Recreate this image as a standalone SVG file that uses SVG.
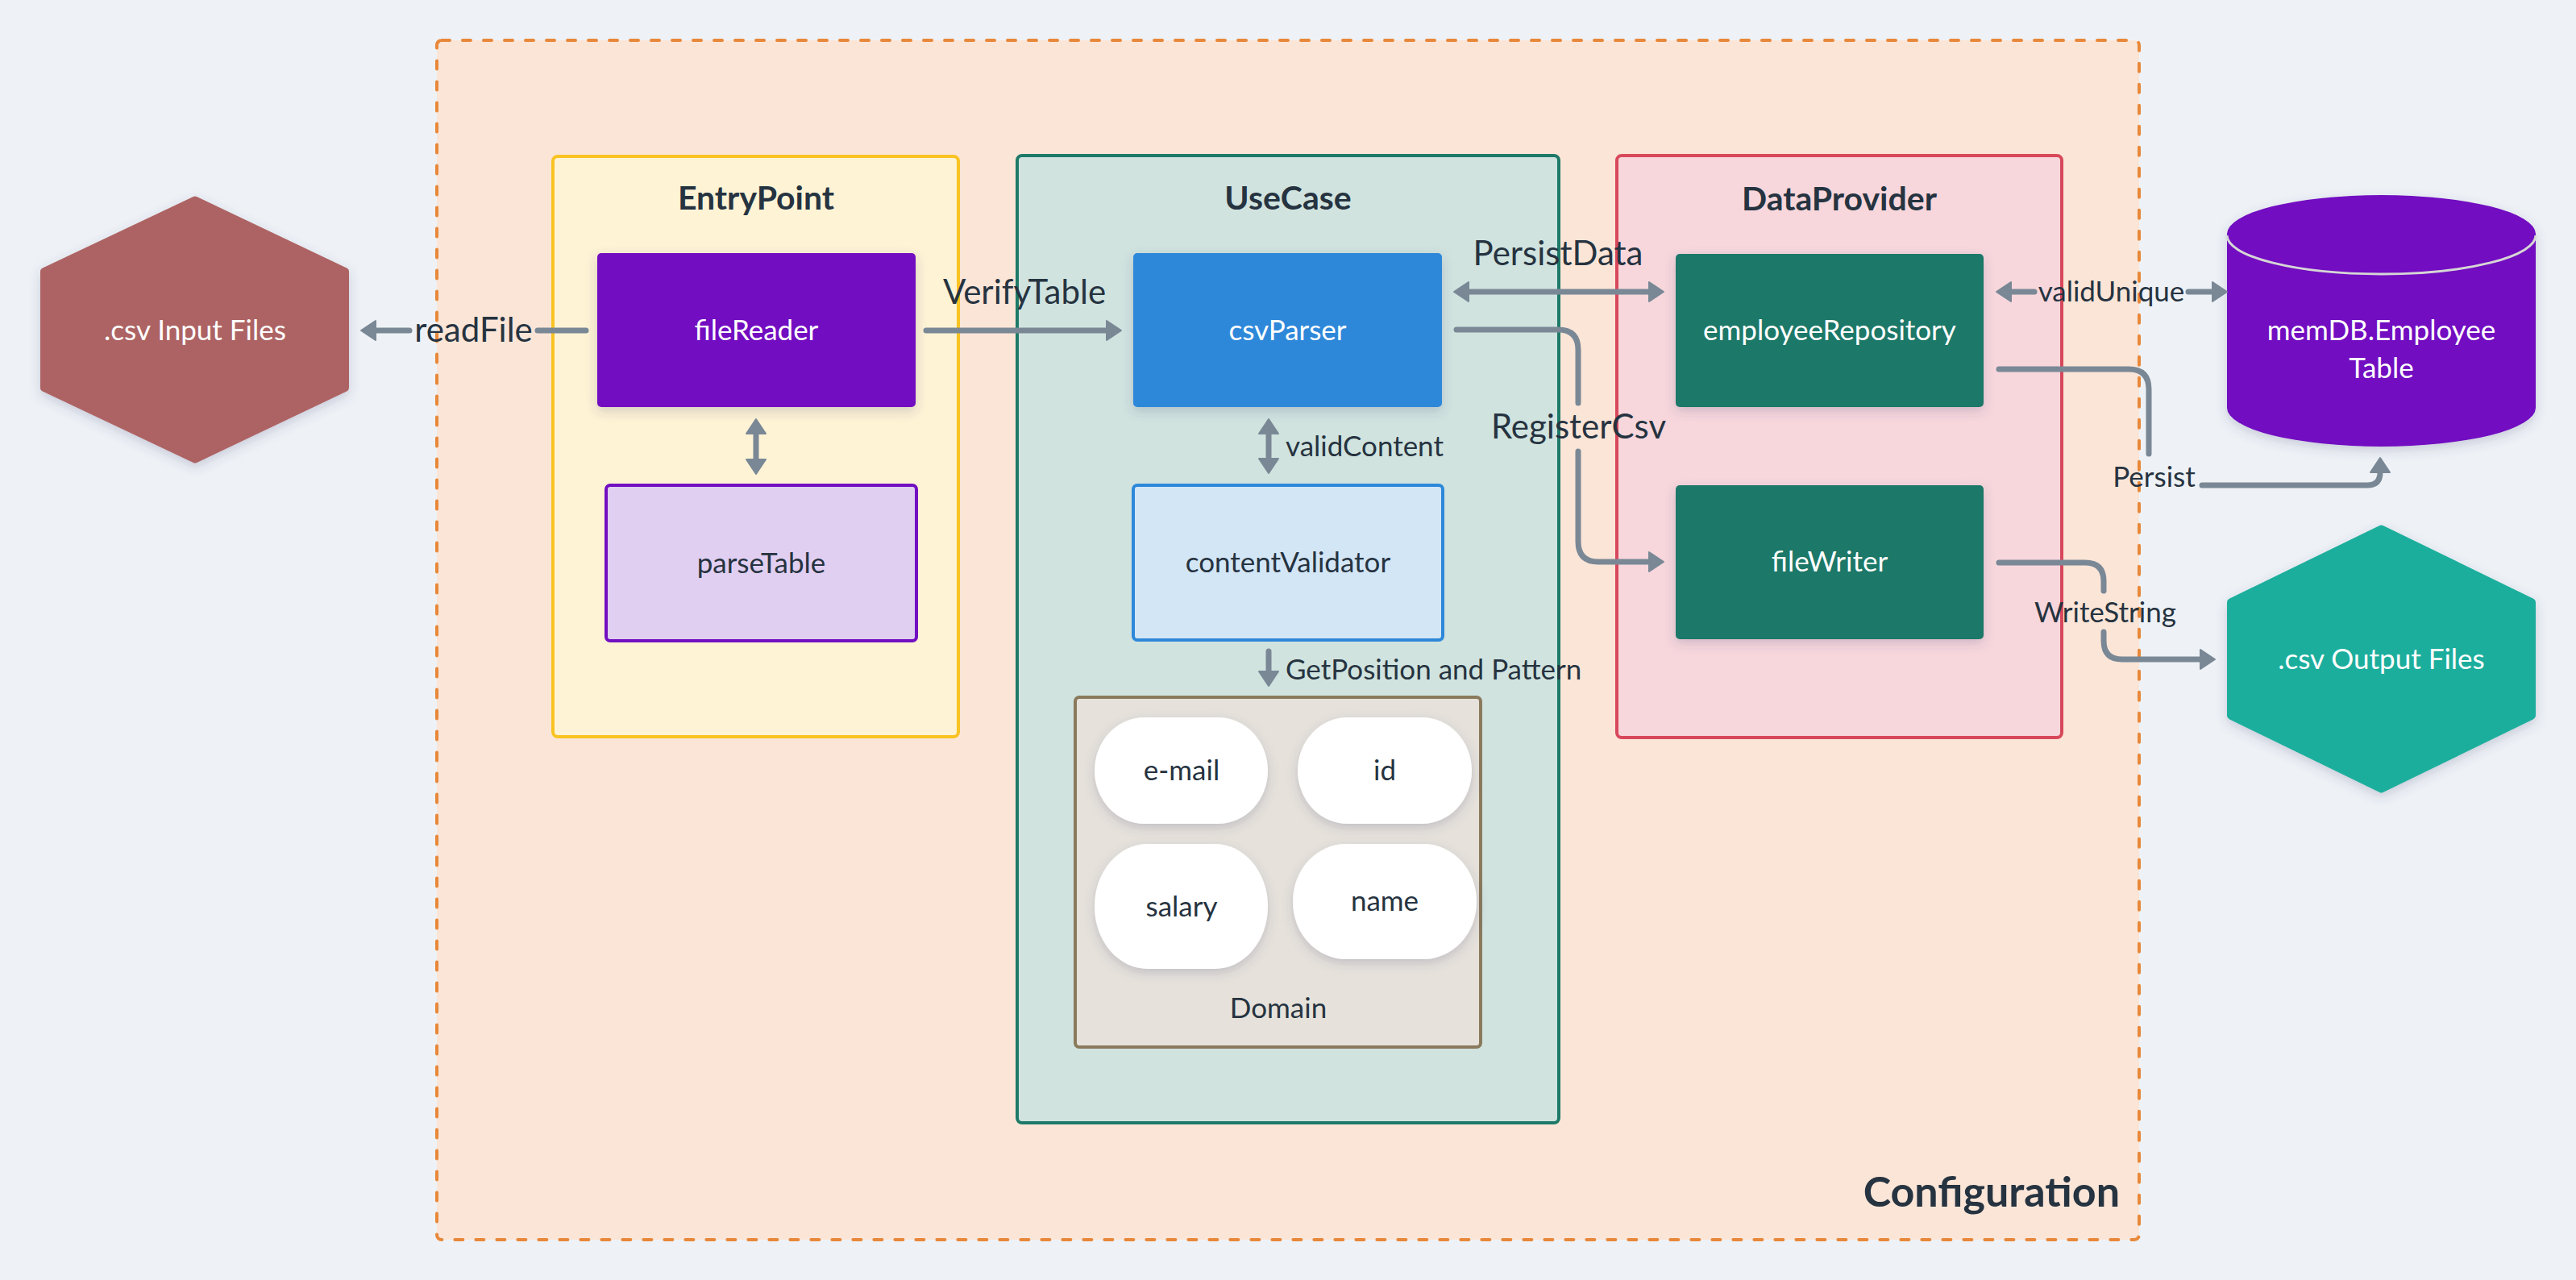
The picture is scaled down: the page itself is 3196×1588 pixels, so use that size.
<svg xmlns="http://www.w3.org/2000/svg" width="3196" height="1588" viewBox="0 0 3196 1588">
<defs>
<style>
.t{font-family:Lato,"Noto Sans","DejaVu Sans",sans-serif;fill:#263340;}
.w{fill:#ffffff;}
.n{font-size:35px;text-anchor:middle;}
.big{font-size:42px;}
.sm{font-size:35px;}
.title{font-size:41px;font-weight:bold;text-anchor:middle;}
.c{text-anchor:middle;}
.cont{stroke-width:4;}
.conn{fill:none;stroke:#7A8896;stroke-width:7;stroke-linecap:round;stroke-linejoin:round;}
.sh{filter:url(#shadow);}
</style>
<filter id="shadow" x="-30%" y="-30%" width="160%" height="170%">
<feDropShadow dx="0" dy="5" stdDeviation="7" flood-color="#3d4574" flood-opacity="0.22"/>
</filter>
<marker id="ah" markerUnits="userSpaceOnUse" viewBox="-3 -16 26 32" refX="0" refY="0" markerWidth="26" markerHeight="32" orient="auto-start-reverse">
<path d="M0,-12 L18,0 L0,12 Z" fill="#7A8896" stroke="#7A8896" stroke-width="2" stroke-linejoin="round"/>
</marker>
</defs>
<rect x="0" y="0" width="3196" height="1588" fill="#EEF2F6"/>

<g id="configuration">
<rect x="542" y="50" width="2112" height="1488" rx="6" fill="#FBE5D7" stroke="#E8883A" stroke-width="4" stroke-dasharray="10 16" stroke-linecap="round"/>
<text class="t" x="2630" y="1497" font-size="52" font-weight="bold" text-anchor="end">Configuration</text>
</g>

<g id="input-files">
<polygon class="sh" points="242,248.5 428,337 428,481 242,569.5 55,481 55,337" fill="#AD6464" stroke="#AD6464" stroke-width="10" stroke-linejoin="round"/>
<text class="t w n" x="242" y="422">.csv Input Files</text>
</g>

<g id="entrypoint">
<rect x="686" y="194" width="503" height="720" rx="6" fill="#FEF3D5" stroke="#F9C322" class="cont"/>
<text class="t title" x="938" y="260">EntryPoint</text>
</g>
<g id="filereader">
<rect class="sh" x="741" y="314" width="395" height="191" rx="5" fill="#720FC1"/>
<text class="t w n" x="938.5" y="422">fileReader</text>
</g>
<g id="parsetable">
<rect x="752" y="602" width="385" height="193" rx="5" fill="#E1CFF2" stroke="#720FC1" class="cont"/>
<text class="t n" x="944.5" y="711">parseTable</text>
</g>

<g id="usecase">
<rect x="1262" y="193" width="672" height="1200" rx="6" fill="#D0E3DF" stroke="#1E7A68" class="cont"/>
<text class="t title" x="1598" y="260">UseCase</text>
</g>
<g id="csvparser">
<rect class="sh" x="1406" y="314" width="383" height="191" rx="5" fill="#2D88D9"/>
<text class="t w n" x="1597.5" y="422">csvParser</text>
</g>
<g id="contentvalidator">
<rect x="1406" y="602" width="384" height="192" rx="5" fill="#D3E6F6" stroke="#2D88D9" class="cont"/>
<text class="t n" x="1598" y="710">contentValidator</text>
</g>
<g id="domain">
<rect x="1334" y="865" width="503" height="434" rx="5" fill="#E6E2DB" stroke="#8A7A5C" class="cont"/>
<text class="t n" x="1586" y="1263">Domain</text>
</g>
<g id="email">
<rect class="sh" x="1358" y="890" width="215" height="132" rx="62" ry="66" fill="#ffffff"/>
<text class="t n" x="1466" y="968">e-mail</text>
</g>
<g id="id">
<rect class="sh" x="1610" y="890" width="216" height="132" rx="62" ry="66" fill="#ffffff"/>
<text class="t n" x="1718" y="968">id</text>
</g>
<g id="salary">
<rect class="sh" x="1358" y="1047" width="215" height="155" rx="66" ry="77" fill="#ffffff"/>
<text class="t n" x="1466" y="1137">salary</text>
</g>
<g id="name">
<rect class="sh" x="1604" y="1047" width="228" height="143" rx="66" ry="71" fill="#ffffff"/>
<text class="t n" x="1718" y="1130">name</text>
</g>

<g id="dataprovider">
<rect x="2006" y="193" width="552" height="722" rx="6" fill="#F7D7DC" stroke="#D8485B" class="cont"/>
<text class="t title" x="2282" y="261">DataProvider</text>
</g>
<g id="employeerepository">
<rect class="sh" x="2079" y="315" width="382" height="190" rx="5" fill="#1F7868"/>
<text class="t w n" x="2270" y="422">employeeRepository</text>
</g>
<g id="filewriter">
<rect class="sh" x="2079" y="602" width="382" height="191" rx="5" fill="#1F7868"/>
<text class="t w n" x="2270" y="709">fileWriter</text>
</g>

<g id="memdb">
<path class="sh" d="M2763,290 A191.5,48 0 0 1 3146,290 V506 A191.5,48 0 0 1 2763,506 Z" fill="#720FC1"/>
<path d="M2763,292 A191.5,48 0 0 0 3146,292" fill="none" stroke="#D6D6D6" stroke-width="3"/>
<text class="t w n" x="2954.5" y="422">memDB.Employee</text>
<text class="t w n" x="2954.5" y="469">Table</text>
</g>

<g id="output-files">
<polygon class="sh" points="2954.5,656.6 3141,747.2 3141,887.8 2954.5,978.4 2768,887.8 2768,747.2" fill="#1BAE9D" stroke="#1BAE9D" stroke-width="10" stroke-linejoin="round"/>
<text class="t w n" x="2954.5" y="830">.csv Output Files</text>
</g>

<g id="connectors">
<path class="conn" d="M727,410 H667 M508,410 H466" marker-end="url(#ah)"/>
<path class="conn" d="M1149,410 H1373" marker-end="url(#ah)"/>
<path class="conn" d="M1822,362 H2046" marker-start="url(#ah)" marker-end="url(#ah)"/>
<path class="conn" d="M1807,409 H1933 Q1958,409 1958,434 V500 M1958,560 V672 Q1958,697 1983,697 H2046" marker-end="url(#ah)"/>
<path class="conn" d="M1574,538 V569" marker-start="url(#ah)" marker-end="url(#ah)"/>
<path class="conn" d="M1574,808 V833" marker-end="url(#ah)"/>
<path class="conn" d="M938,538 V570" marker-start="url(#ah)" marker-end="url(#ah)"/>
<path class="conn" d="M2495,362 H2524 M2715,362 H2745" marker-start="url(#ah)" marker-end="url(#ah)"/>
<path class="conn" d="M2480,458 H2641 Q2666,458 2666,483 V563 M2732,602 H2937 Q2953,602 2953,586" marker-end="url(#ah)"/>
<path class="conn" d="M2480,698 H2587 Q2610,698 2610,721 V733 M2610,784 V795 Q2610,818 2633,818 H2730" marker-end="url(#ah)"/>
<text class="t big c" x="587.5" y="424">readFile</text>
<text class="t big c" x="1271" y="377">VerifyTable</text>
<text class="t big c" x="1933" y="329">PersistData</text>
<text class="t big c" x="1958.5" y="544">RegisterCsv</text>
<text class="t sm" x="1595" y="566">validContent</text>
<text class="t sm" x="1595" y="843">GetPosition and Pattern</text>
<text class="t sm c" x="2619.5" y="374">validUnique</text>
<text class="t sm c" x="2672.5" y="604">Persist</text>
<text class="t sm c" x="2612" y="772">WriteString</text>
</g>
</svg>
